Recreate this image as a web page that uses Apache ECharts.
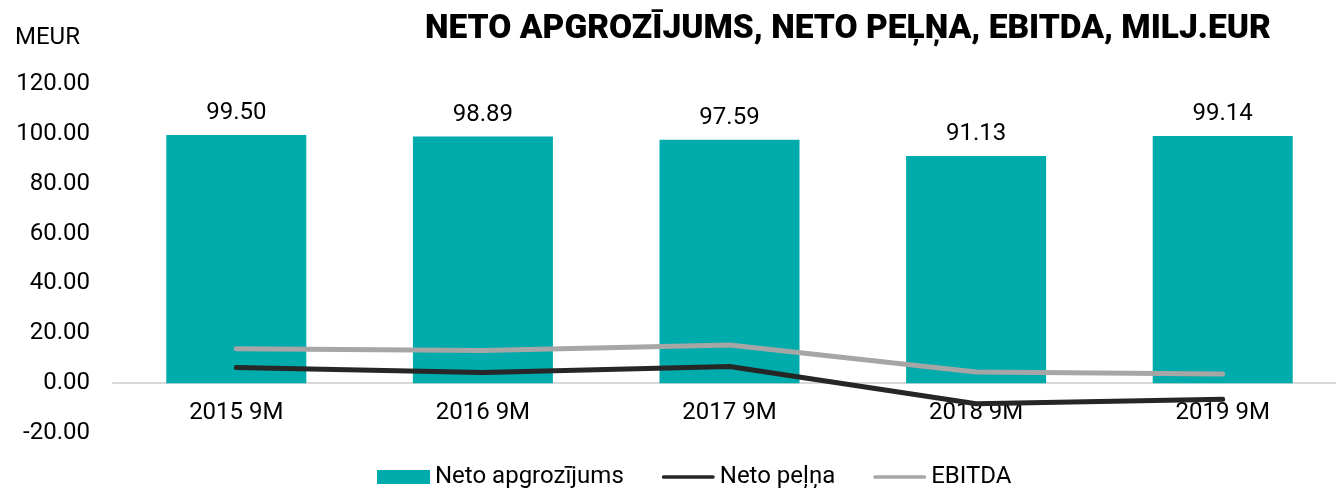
<!DOCTYPE html>
<html>
<head>
<meta charset="utf-8">
<script src="https://cdn.jsdelivr.net/npm/echarts@6/dist/echarts.min.js"></script>
<style>
  html, body { margin: 0; padding: 0; background: #fff; }
  #chart { width: 1336px; height: 488px; }
</style>
</head>
<body>
<div id="chart"></div>
<script>
// dati
const categories = ["2015 9M", "2016 9M", "2017 9M", "2018 9M", "2019 9M"];
const apgrozijums = [99.50, 98.89, 97.59, 91.13, 99.14];
const pelna = [6.3, 4.3, 6.7, -8.3, -6.5];
const ebitda = [13.8, 13.1, 15.3, 4.5, 3.7];

const FONT = "Roboto";
// līnijas ikona leģendai (plāna līnija vidū)
const LINE_ICON = "path://M0,0 M0,5 L53,5 A2,2 0 0 1 53,9 L0,9 A2,2 0 0 1 0,5 Z M53,14";

const chart = echarts.init(document.getElementById("chart"));
chart.setOption({
  animation: false,
  textStyle: { fontFamily: FONT, color: "#000" },
  title: [
    {
      text: "NETO APGROZĪJUMS, NETO PEĻŅA, EBITDA, MILJ.EUR",
      left: 420,
      top: 8,
      textStyle: { fontFamily: FONT, fontSize: 33.5, fontWeight: 900, color: "#000" }
    },
    {
      text: "MEUR",
      left: 10,
      top: 21,
      textStyle: { fontFamily: FONT, fontSize: 24, fontWeight: "normal", color: "#000" }
    }
  ],
  legend: {
    left: 372,
    top: 460,
    itemGap: 38,
    itemWidth: 53,
    itemHeight: 14,
    textStyle: { fontSize: 24, color: "#000" },
    data: [
      { name: "Neto apgrozījums", icon: "rect" },
      { name: "Neto peļņa", icon: LINE_ICON },
      { name: "EBITDA", icon: LINE_ICON }
    ]
  },
  grid: { left: 113, top: 84, width: 1233, height: 349, outerBoundsMode: "none" },
  xAxis: {
    type: "category",
    data: categories,
    axisTick: { show: false },
    axisLine: { onZero: true, lineStyle: { color: "#d9d9d9", width: 2 } },
    axisLabel: { fontSize: 24, color: "#000", margin: -32 }
  },
  yAxis: {
    type: "value",
    min: -20,
    max: 120,
    interval: 20,
    splitLine: { show: false },
    axisLine: { show: false },
    axisTick: { show: false },
    axisLabel: {
      fontSize: 24, color: "#000", margin: 23,
      formatter: v => v.toFixed(2)
    }
  },
  series: [
    {
      name: "Neto apgrozījums",
      type: "bar",
      data: apgrozijums,
      barWidth: 140,
      itemStyle: { color: "#00abab" },
      label: {
        show: true, position: "top", distance: 10, fontSize: 24, color: "#000",
        formatter: p => p.value.toFixed(2)
      }
    },
    {
      name: "Neto peļņa",
      type: "line",
      data: pelna,
      symbol: "none",
      lineStyle: { color: "#262626", width: 5, cap: "round", join: "round" },
      itemStyle: { color: "#262626" }
    },
    {
      name: "EBITDA",
      type: "line",
      data: ebitda,
      symbol: "none",
      lineStyle: { color: "#a6a6a6", width: 5, cap: "round", join: "round" },
      itemStyle: { color: "#a6a6a6" }
    }
  ]
});
</script>
</body>
</html>
